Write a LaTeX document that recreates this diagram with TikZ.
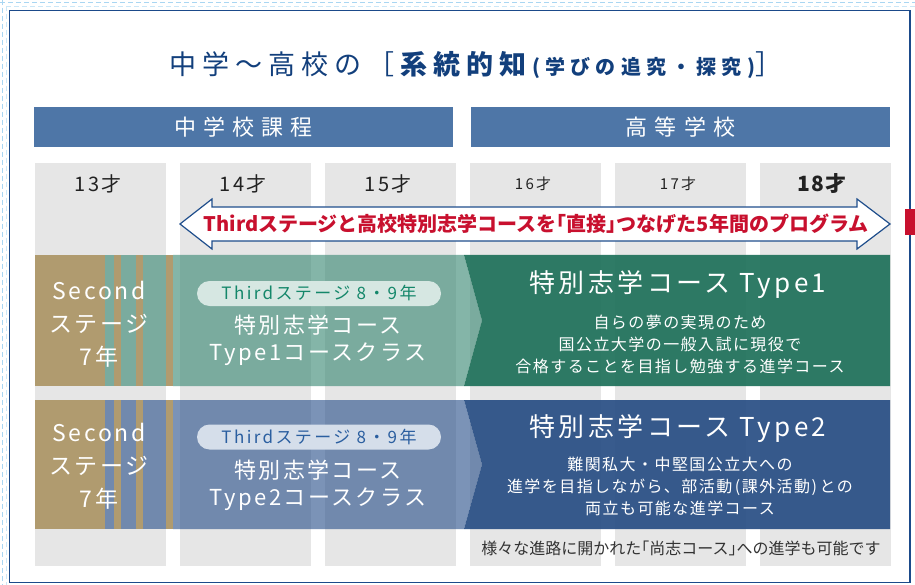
\documentclass[tikz,border=0pt]{standalone}
\usepackage{fontspec}
\setmainfont{Noto Sans CJK JP}
\newcommand{\lbr}{{\addfontfeatures{RawFeature=+halt}「}}
\newcommand{\rbr}{{\addfontfeatures{RawFeature=+halt}」}}
\definecolor{navy}{HTML}{123F7C}
\definecolor{framecol}{HTML}{1B4A8A}
\definecolor{dashcol}{HTML}{A9D6F2}
\definecolor{barblue}{HTML}{4E76A7}
\definecolor{colgrey}{HTML}{E6E6E6}
\definecolor{agetext}{HTML}{222222}
\definecolor{arrowline}{HTML}{1F4E8C}
\definecolor{arrowtext}{HTML}{C8102E}
\definecolor{tan}{HTML}{B09B6F}
\definecolor{greenband}{RGB}{50,132,110}
\definecolor{greendark}{HTML}{1E7059}
\definecolor{greenpill}{HTML}{D6E7E2}
\definecolor{greenpilltext}{HTML}{14876A}
\definecolor{blueband}{RGB}{35,75,135}
\definecolor{bluedark}{HTML}{284E84}
\definecolor{bluepill}{HTML}{D5DEEA}
\definecolor{bluepilltext}{HTML}{2B5FA0}
\definecolor{notetext}{HTML}{333333}

\begin{document}
\begin{tikzpicture}[x=1pt,y=-1pt,
		col/.style={fill=colgrey, inner sep=0pt, minimum width=131pt, minimum height=403pt},
		bar/.style={fill=barblue, text=white, inner sep=0pt, minimum width=419pt, minimum height=40pt, font={\fontsize{22}{22}\selectfont\addfontfeatures{LetterSpace=32}}},
		age/.style={text=agetext, inner sep=0pt, font={\fontsize{20}{20}\selectfont\addfontfeatures{LetterSpace=12}}},
		agesmall/.style={text=agetext, inner sep=0pt, font={\fontsize{15}{15}\selectfont\addfontfeatures{LetterSpace=15}}},
		second/.style={text=white, align=center, inner sep=0pt, font={\fontsize{23}{33}\selectfont\addfontfeatures{LetterSpace=12}}},
		pill/.style={rounded corners=12.5pt, minimum width=244pt, minimum height=25pt, inner sep=0pt, font={\fontsize{17}{17}\selectfont\addfontfeatures{LetterSpace=14}}},
		class/.style={text=white, align=center, inner sep=0pt, font={\fontsize{22}{27}\selectfont\addfontfeatures{LetterSpace=11}}},
		course/.style={text=white, inner sep=0pt, font={\fontsize{26}{26}\selectfont\addfontfeatures{LetterSpace=13}}},
		about/.style={text=white, align=center, inner sep=0pt, font={\fontsize{16}{22}\selectfont\addfontfeatures{LetterSpace=9}}}
		]
		\useasboundingbox (0,0) rectangle (915,585);
		\fill[white] (0,0) rectangle (915,585);
		\draw[dashcol, line width=1pt, dash pattern=on 5pt off 3pt] (0,2.5) -- (915,2.5) (2.5,0) -- (2.5,585);
		\draw[dashcol!60, line width=1pt, dash pattern=on 5pt off 3pt] (6,6.5) -- (915,6.5) (6.5,6) -- (6.5,585);
		\draw[framecol, line width=1.6pt] (9.5,10.5) rectangle (910,582.5);
		\fill[arrowtext] (905,209) rectangle (915,235);

		\node[text=navy, inner sep=0pt] (title) at (476,65)
			{{\fontsize{27}{27}\selectfont\addfontfeatures{LetterSpace=22}中学～高校の\hspace{6pt}［\textbf{系統的知}}{\fontsize{20}{20}\selectfont\bfseries\addfontfeatures{LetterSpace=26}(学びの追究・探究)}{\fontsize{27}{27}\selectfont］}};

		\node[bar] (jhs) at (243.5,127) {中学校課程};
		\node[bar] (hs) at (680.5,127) {高等学校};

		\node[col] (c13) at (100.5,364.5) {};
		\node[col] (c14) at (245.5,364.5) {};
		\node[col] (c15) at (390.5,364.5) {};
		\node[col] (c16) at (535,364.5) {};
		\node[col] (c17) at (680,364.5) {};
		\node[col] (c18) at (825,364.5) {};

		\node[age] (a13) at (98,184) {13才};
		\node[age] (a14) at (243,184) {14才};
		\node[age] (a15) at (388,184) {15才};
		\node[agesmall] (a16) at (533,184) {16才};
		\node[agesmall] (a17) at (678,184) {17才};
		\node[age, font={\fontsize{21}{21}\selectfont\bfseries\addfontfeatures{LetterSpace=8}}] (a18) at (822,184) {18才};

		\filldraw[fill=white, draw=arrowline, line width=1.2pt, line join=miter]
			(180,224) -- (212,199) -- (212,207) -- (857,207) -- (857,199) -- (890,224)
			-- (857,249) -- (857,241) -- (212,241) -- (212,249) -- cycle;
		\node[text=arrowtext, inner sep=0pt, font={\fontsize{20}{20}\selectfont\bfseries}] (program) at (536,224)
			{Thirdステージと高校特別志学コースを\lbr 直接\rbr つなげた5年間のプログラム};

		\foreach \a/\b in {35/105,114/121,136/143,166/173} {
			\fill[tan] (\a,255) rectangle (\b,386);
			\fill[tan] (\a,400) rectangle (\b,529);
		}
		\foreach \a/\b in {105/114,121/136,143/166} {
			\fill[greenband, opacity=0.6] (\a,255) rectangle (\b,386);
			\fill[blueband, opacity=0.6] (\a,400) rectangle (\b,529);
		}
		\fill[greenband, opacity=0.6] (173,255) -- (464,255) -- (482,320.5) -- (464,386) -- (173,386) -- cycle;
		\fill[greendark, opacity=0.92] (464,255) -- (890,255) -- (890,386) -- (464,386) -- (482,320.5) -- cycle;
		\fill[blueband, opacity=0.6] (173,400) -- (464,400) -- (482,464.5) -- (464,529) -- (173,529) -- cycle;
		\fill[bluedark, opacity=0.92] (464,400) -- (890,400) -- (890,529) -- (464,529) -- (482,464.5) -- cycle;

		\node[second] (second1) at (99,324.5) {Second\\ステージ\\7年};
		\node[pill, fill=greenpill, text=greenpilltext] (third1) at (319,293.5) {Thirdステージ 8・9年};
		\node[class] (class1) at (318,340) {特別志学コース\\Type1コースクラス};
		\node[course] (type1) at (678,285) {特別志学コース Type1};
		\node[about] (about1) at (680,344) {自らの夢の実現のため\\国公立大学の一般入試に現役で\\合格することを目指し勉強する進学コース};

		\node[second] (second2) at (99,466.5) {Second\\ステージ\\7年};
		\node[pill, fill=bluepill, text=bluepilltext] (third2) at (319,437) {Thirdステージ 8・9年};
		\node[class] (class2) at (318,485) {特別志学コース\\Type2コースクラス};
		\node[course] (type2) at (678,429) {特別志学コース Type2};
		\node[about] (about2) at (680,486.5) {難関私大・中堅国公立大への\\進学を目指しながら、部活動\,(課外活動)\,との\\両立も可能な進学コース};

		\node[text=notetext, inner sep=0pt, font={\fontsize{16}{16}\selectfont}] (note) at (681,548)
			{様々な進路に開かれた\lbr 尚志コース\rbr への進学も可能です};
	\end{tikzpicture}
\end{document}
